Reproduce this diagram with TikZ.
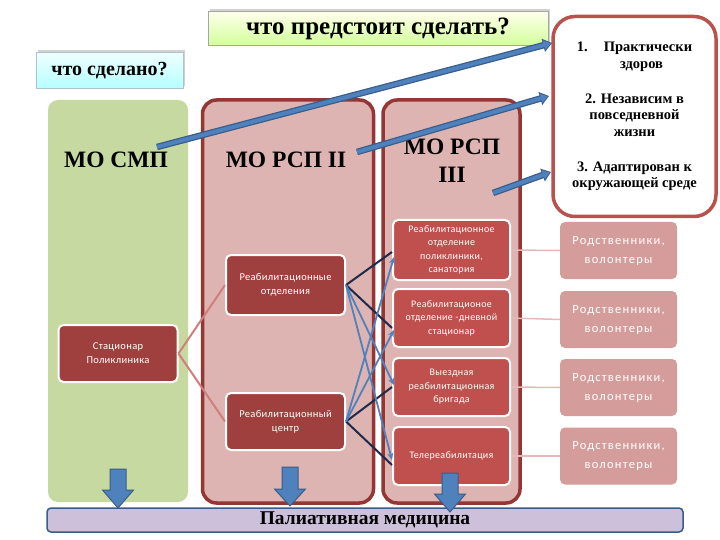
\documentclass[tikz,border=0pt]{standalone}
\usepackage{fontspec}
\setmainfont{Liberation Serif}
\newfontfamily\smallfont[LetterSpace=3]{Carlito}
\newfontfamily\relfont[LetterSpace=10]{Carlito}
\usetikzlibrary{shadows,arrows.meta,calc}
\definecolor{colfill}{HTML}{DDB4B2}
\definecolor{colborder}{HTML}{943634}
\definecolor{darkbox}{HTML}{A0403E}
\definecolor{redbox}{HTML}{C0504D}
\definecolor{relbox}{HTML}{D49D9B}
\definecolor{relline}{HTML}{E6B9B8}
\definecolor{greencol}{HTML}{C6D9A0}
\definecolor{goalborder}{HTML}{B9514E}
\definecolor{navy}{HTML}{1F2A4A}
\definecolor{blueln}{HTML}{4F81BD}
\definecolor{blueout}{HTML}{385D8A}
\definecolor{lav}{HTML}{CCC0DA}
\definecolor{statline}{HTML}{CF7F7D}
\tikzset{
  column/.style={draw=colborder, line width=3.5, fill=colfill, rounded corners=14, minimum width=#1, minimum height=403, inner sep=0},
  innerdark/.style={draw=white, line width=2, fill=darkbox, rounded corners=5, minimum width=119, text=white, align=center, font=\smallfont\fontsize{10.5}{14}\selectfont},
  innerred/.style={draw=white, line width=2, fill=redbox, rounded corners=5, minimum width=117, minimum height=58, text=white, align=center, font=\smallfont\fontsize{10}{13.5}\selectfont},
  relbx/.style={fill=relbox, rounded corners=5, minimum width=117, minimum height=57, text=white, align=center, font=\relfont\fontsize{12.5}{19}\selectfont},
  coltitle/.style={font=\bfseries\fontsize{23.5}{28}\selectfont, align=center},
  darkln/.style={draw=navy, line width=2},
  blueln/.style={draw=blueln, line width=1.8, -{Stealth[length=7,width=6]}},
  statln/.style={draw=statline, line width=2},
  relln/.style={draw=relline, line width=1.5},
  bigout/.style={draw=blueout, line width=6.5, -{Triangle[length=9,width=13]}},
  bigin/.style={draw=blueln, line width=4, -{Triangle[length=7,width=9]}, shorten >=1.2},
  downarr/.style={fill=blueln, draw=blueout, line width=1},
}
\begin{document}
\begin{tikzpicture}[x=1pt,y=-1pt]
\useasboundingbox[fill=white] (0,0) rectangle (720,540);

% columns
\node[fill=greencol, rounded corners=10, minimum width=140, minimum height=402, inner sep=0] (colsmp) at (118,301) {};
\node[column=171] (colii) at (288,301.5) {};
\node[column=137] (coliii) at (451.5,301.5) {};

\node[coltitle] (smp) at (116,160) {МО СМП};
\node[coltitle] (rspii) at (286,160) {МО РСП II};
\node[coltitle] (rspiii) at (452,161) {МО РСП\\III};

% titles
\node[draw=gray!70, line width=1, top color=green!3!yellow!8, bottom color=green!45!yellow!40, minimum width=340, minimum height=34, drop shadow={shadow xshift=1.5, shadow yshift=-2.5, opacity=0.35}, font=\bfseries\fontsize{25}{26}\selectfont] (todo) at (378,29) {что предстоит сделать?};
\node[draw=cyan!30!gray!60, line width=1, top color=cyan!6, bottom color=cyan!30, minimum width=147, minimum height=36, drop shadow={shadow xshift=1.5, shadow yshift=-2.5, opacity=0.35}, font=\bfseries\fontsize{20}{22}\selectfont] (done) at (109.5,71) {что сделано?};

% goal box
\node[draw=goalborder, line width=3.5, fill=white, rounded corners=22, minimum width=163, minimum height=200, align=center, font=\bfseries\fontsize{14.5}{16.5}\selectfont] (goal) at (634.5,116.5) {1.\hspace{16pt}Практически\\\hspace*{14pt}здоров\\[18.5pt]2. Независим в\\повседневной\\жизни\\[18.5pt]3. Адаптирован к\\окружающей среде};

% inner boxes
\node[innerdark, minimum height=57] (stac) at (118,353.5) {Стационар\\Поликлиника};
\node[innerdark, minimum height=60] (otd) at (285.5,285) {Реабилитационные\\отделения};
\node[innerdark, minimum height=57] (cent) at (285.5,421.5) {Реабилитационный\\центр};

\node[innerred, minimum height=60] (ra) at (451.5,250) {Реабилитационное\\отделение\\поликлиники,\\санатория};
\node[innerred] (rb) at (451.5,318) {Реабилитационое\\отделение -дневной\\стационар};
\node[innerred] (rc) at (451.5,387) {Выездная\\реабилитационная\\бригада};
\node[innerred] (rd) at (451.5,456) {Телереабилитация};

\node[relbx] (qa) at (618.5,250.5) {Родственники,\\волонтеры};
\node[relbx] (qb) at (618.5,319.5) {Родственники,\\волонтеры};
\node[relbx] (qc) at (618.5,387.5) {Родственники,\\волонтеры};
\node[relbx] (qd) at (618.5,456) {Родственники,\\волонтеры};

% bottom bar
\node[draw=blueout, line width=1.5, fill=lav, rounded corners=4, minimum width=636, minimum height=24, font=\bfseries\fontsize{19.5}{20}\selectfont] (pal) at (365,520) {Палиативная медицина};

% connectors
\draw[relln] (ra.east) -- (qa.west);
\draw[relln] (rb.east) -- (qb.west);
\draw[relln] (rc.east) -- (qc.west);
\draw[relln] (rd.east) -- (qd.west);

\draw[statln] (stac.east) -- (otd.west);
\draw[statln] (stac.east) -- (cent.west);

\draw[darkln] (otd.east) -- ($(ra.west)+(0,2)$);
\draw[darkln] (otd.east) -- ($(rb.west)+(0,10)$);
\draw[darkln] (cent.east) -- ($(rc.west)+(0,0)$);
\draw[darkln] (cent.east) -- ($(rd.west)+(0,9)$);
\draw[blueln] (otd.east) -- ($(rc.west)+(2,-2)$);
\draw[blueln] (otd.east) -- ($(rd.west)+(0,4)$);
\draw[blueln] (cent.east) -- ($(ra.west)+(2,7)$);
\draw[blueln] (cent.east) -- ($(rb.west)+(2,12)$);

% big arrows
\coordinate (s1) at (157,147);
\coordinate (e1) at (552,43);
\coordinate (s2) at (357,152);
\coordinate (e2) at (549,96);
\coordinate (s3) at (493,193);
\coordinate (e3) at (551,172);
\foreach \s/\e in {s1/e1,s2/e2,s3/e3}{
  \draw[bigout] (\s) -- (\e);
  \draw[bigin] (\s) -- (\e);
}

% down block arrows
\foreach \x/\t/\m/\b in {118/469/490/508, 290/467/489/506, 450/473/494/512}{
  \draw[downarr] (\x-8,\t) -- (\x+8,\t) -- (\x+8,\m) -- (\x+15.5,\m) -- (\x,\b) -- (\x-15.5,\m) -- (\x-8,\m) -- cycle;
}
\end{tikzpicture}
\end{document}
